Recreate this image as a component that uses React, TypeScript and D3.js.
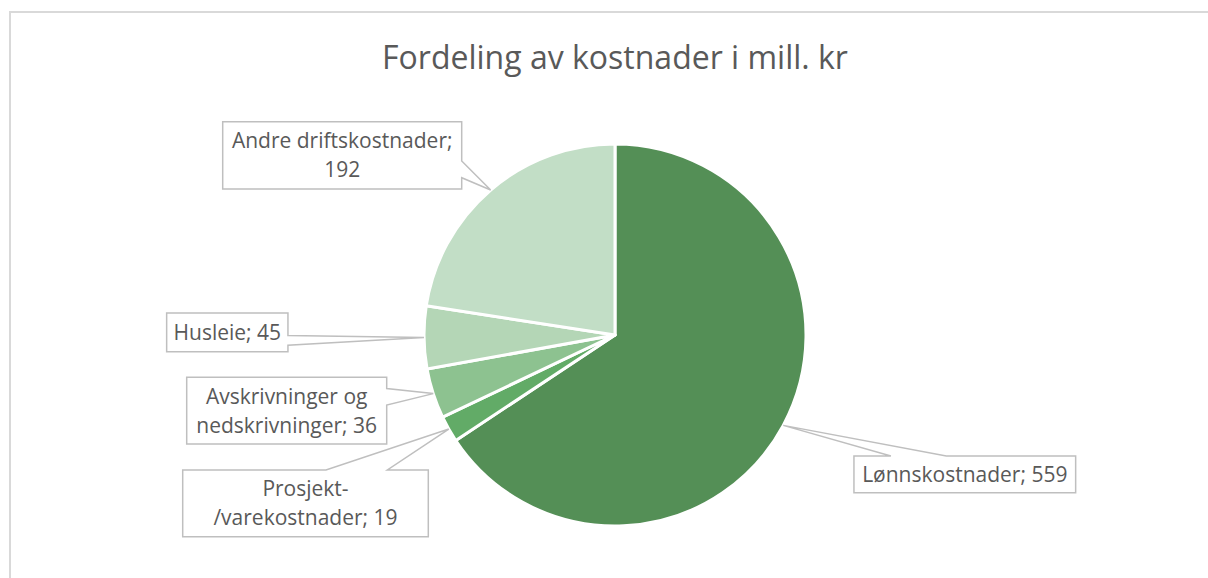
import React from "react";
import * as d3 from "d3";

const title = "Fordeling av kostnader i mill. kr";
const categories = [
  "Lønnskostnader",
  "Prosjekt-/varekostnader",
  "Avskrivninger og nedskrivninger",
  "Husleie",
  "Andre driftskostnader",
];
const values = [559, 19, 36, 45, 192];
// label lines as shown in the chart (category; value)
const labelLines = [
  ["Lønnskostnader; 559"],
  ["Prosjekt-", "/varekostnader; 19"],
  ["Avskrivninger og", "nedskrivninger; 36"],
  ["Husleie; 45"],
  ["Andre driftskostnader;", "192"],
];
const colors = ["#548F56", "#62AB67", "#8DC290", "#B4D6B6", "#C2DEC6"];

// callout box layout (center offset from pie center, width, height)
const boxLayout = [
  { dx: 349.8, dy: 139.3, w: 221.7, h: 36.7 },
  { dx: -309.5, dy: 168.3, w: 245.6, h: 66.7 },
  { dx: -328.3, dy: 75.7, w: 200, h: 66.7 },
  { dx: -387.7, dy: -2.7, w: 121.3, h: 38.7 },
  { dx: -272.8, dy: -179.7, w: 239, h: 67.3 },
];

const W = 1208;
const H = 578;
const cx = 615;
const cy = 335;
const R = 191;
const FONT = "'Open Sans', sans-serif";
const TEXT = "#595959";

function calloutPath(x: number, y: number, w: number, h: number, tx: number, ty: number) {
  const hc = x + w / 2, vc = y + h / 2;
  const dxPos = tx - hc, dyPos = ty - vc;
  const dq = (dxPos * h) / w;
  const dz = Math.abs(dyPos) - Math.abs(dq);
  const xg1 = dxPos > 0 ? 7 : 2, xg2 = dxPos > 0 ? 10 : 5;
  const yg1 = dyPos > 0 ? 7 : 2, yg2 = dyPos > 0 ? 10 : 5;
  const x1 = x + (w * xg1) / 12, x2 = x + (w * xg2) / 12;
  const y1 = y + (h * yg1) / 12, y2 = y + (h * yg2) / 12;
  const p = d3.path();
  p.moveTo(x, y);
  if (dz > 0 && dyPos < 0) { p.lineTo(x1, y); p.lineTo(tx, ty); p.lineTo(x2, y); }
  p.lineTo(x + w, y);
  if (dz <= 0 && dxPos > 0) { p.lineTo(x + w, y1); p.lineTo(tx, ty); p.lineTo(x + w, y2); }
  p.lineTo(x + w, y + h);
  if (dz > 0 && dyPos > 0) { p.lineTo(x2, y + h); p.lineTo(tx, ty); p.lineTo(x1, y + h); }
  p.lineTo(x, y + h);
  if (dz <= 0 && dxPos < 0) { p.lineTo(x, y2); p.lineTo(tx, ty); p.lineTo(x, y1); }
  p.closePath();
  return p.toString();
}

export default function App() {
  const pie = d3.pie<number>().sort(null).value((d) => d);
  const arcs = pie(values);
  const arc = d3.arc<d3.PieArcDatum<number>>().innerRadius(0).outerRadius(R);
  const edge = d3.arc<d3.PieArcDatum<number>>().innerRadius(R).outerRadius(R);
  const lineH = 29;

  return (
    <svg width={W} height={H} style={{ position: "absolute", left: 0, top: 0, background: "#fff" }}>
      <rect x={0} y={0} width={W} height={H} fill="#fff" />
      <rect x={10} y={12} width={1220} height={620} fill="none" stroke="#D9D9D9" strokeWidth={2} />
      <text x={cx} y={69} textAnchor="middle" fontFamily={FONT} fontSize={32} fill={TEXT}>
        {title}
      </text>
      <g transform={`translate(${cx},${cy})`}>
        {arcs.map((a, i) => (
          <path key={categories[i]} d={arc(a) || ""} fill={colors[i]} stroke="#fff" strokeWidth={3} strokeLinejoin="round" />
        ))}
      </g>
      {arcs.map((a, i) => {
        const [ex, ey] = edge.centroid(a);
        const tx = cx + ex, ty = cy + ey;
        const b = boxLayout[i];
        const bx = cx + b.dx - b.w / 2;
        const by = cy + b.dy - b.h / 2;
        const lines = labelLines[i];
        const midY = cy + b.dy;
        return (
          <g key={"lbl" + i}>
            <path d={calloutPath(bx, by, b.w, b.h, tx, ty)} fill="#fff" stroke="#BFBFBF" strokeWidth={1.5} />
            {lines.map((ln, j) => (
              <text
                key={j}
                x={cx + b.dx}
                y={midY + (j - (lines.length - 1) / 2) * lineH + 7.5}
                textAnchor="middle"
                fontFamily={FONT}
                fontSize={21}
                fill={TEXT}
              >
                {ln}
              </text>
            ))}
          </g>
        );
      })}
    </svg>
  );
}
